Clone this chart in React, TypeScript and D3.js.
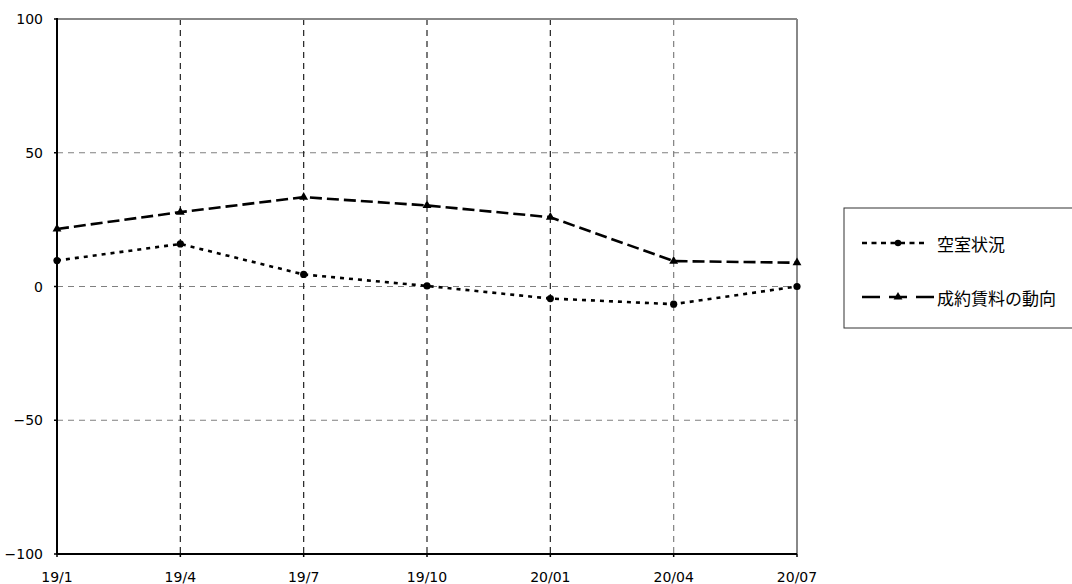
import React from "react";
import * as d3 from "d3";

const categories = ["19/1", "19/4", "19/7", "19/10", "20/01", "20/04", "20/07"];
const vacancy = [9.7, 15.9, 4.5, 0.2, -4.5, -6.6, 0];
const rent = [21.5, 27.8, 33.4, 30.3, 25.9, 9.5, 8.9];
const yTicks = [-100, -50, 0, 50, 100];
const seriesNames = ["空室状況", "成約賃料の動向"];

const W = 1072;
const H = 584;
const left = 57;
const right = 797;
const top = 19;
const bottom = 554;
const numFont = "'DejaVu Sans', 'Liberation Sans', sans-serif";
const jpFont = "'Noto Sans CJK JP', sans-serif";

export default function App() {
  const x = d3.scalePoint<string>().domain(categories).range([left, right]);
  const y = d3.scaleLinear().domain([-100, 100]).range([bottom, top]);
  const line = d3
    .line<number>()
    .x((_, i) => x(categories[i]) as number)
    .y((d) => y(d));
  const tri = d3.symbol().type(d3.symbolTriangle).size(34)();

  return (
    <svg
      width={W}
      height={H}
      style={{ position: "absolute", left: 0, top: 0, background: "#fff" }}
      fontFamily={numFont}
    >
      <rect x={0} y={0} width={W} height={H} fill="#fff" />
      {yTicks
        .filter((t) => t !== -100 && t !== 100)
        .map((t) => (
          <line
            key={"h" + t}
            x1={left}
            x2={right}
            y1={y(t)}
            y2={y(t)}
            stroke="#808080"
            strokeWidth={1.2}
            strokeDasharray="6,5"
          />
        ))}
      {categories.slice(1, -1).map((c, i) => (
        <line
          key={"v" + c}
          x1={x(c)}
          x2={x(c)}
          y1={top}
          y2={bottom}
          stroke={i === 4 ? "#808080" : "#222"}
          strokeWidth={1.2}
          strokeDasharray="6,5"
        />
      ))}
      <line x1={left} x2={right} y1={top} y2={top} stroke="#888" strokeWidth={2} />
      <line x1={right} x2={right} y1={top} y2={bottom} stroke="#888" strokeWidth={2} />
      <line x1={left} x2={left} y1={top - 1} y2={bottom + 1} stroke="#000" strokeWidth={2} />
      <line x1={left} x2={right} y1={bottom} y2={bottom} stroke="#000" strokeWidth={2} />
      {yTicks.map((t) => (
        <g key={"yt" + t}>
          <line x1={left - 3} x2={left} y1={y(t)} y2={y(t)} stroke="#000" strokeWidth={1.5} />
          <text
            x={43}
            y={y(t)}
            textAnchor="end"
            dominantBaseline="central"
            fontSize={14}
            fill="#000"
          >
            {t < 0 ? "\u2212" + Math.abs(t) : t}
          </text>
        </g>
      ))}
      {categories.map((c) => (
        <g key={"xt" + c}>
          <line x1={x(c)} x2={x(c)} y1={bottom} y2={bottom + 3} stroke="#000" strokeWidth={1.5} />
          <text x={x(c)} y={582} textAnchor="middle" fontSize={14} fill="#000">
            {c}
          </text>
        </g>
      ))}
      <path d={line(vacancy) || ""} fill="none" stroke="#000" strokeWidth={2.6} strokeDasharray="4,5" />
      {vacancy.map((v, i) => (
        <circle key={"c" + i} cx={x(categories[i])} cy={y(v)} r={3.6} fill="#000" />
      ))}
      <path d={line(rent) || ""} fill="none" stroke="#000" strokeWidth={2.6} strokeDasharray="12,5" />
      {rent.map((v, i) => (
        <path
          key={"t" + i}
          d={tri || ""}
          transform={`translate(${x(categories[i])},${y(v)})`}
          fill="#000"
        />
      ))}
      <rect x={844} y={208} width={240} height={120} fill="#fff" stroke="#333" strokeWidth={1} />
      <line x1={862} x2={928} y1={243} y2={243} stroke="#000" strokeWidth={2.6} strokeDasharray="5,4.5" />
      <circle cx={898} cy={243} r={3.2} fill="#000" />
      <text x={937} y={243} dominantBaseline="central" fontSize={17} fontFamily={jpFont} fill="#000">
        {seriesNames[0]}
      </text>
      <line x1={862} x2={936} y1={297} y2={297} stroke="#000" strokeWidth={2.6} strokeDasharray="18,9" />
      <path d={tri || ""} transform="translate(898,297)" fill="#000" />
      <text x={937} y={297} dominantBaseline="central" fontSize={17} fontFamily={jpFont} fill="#000">
        {seriesNames[1]}
      </text>
    </svg>
  );
}
